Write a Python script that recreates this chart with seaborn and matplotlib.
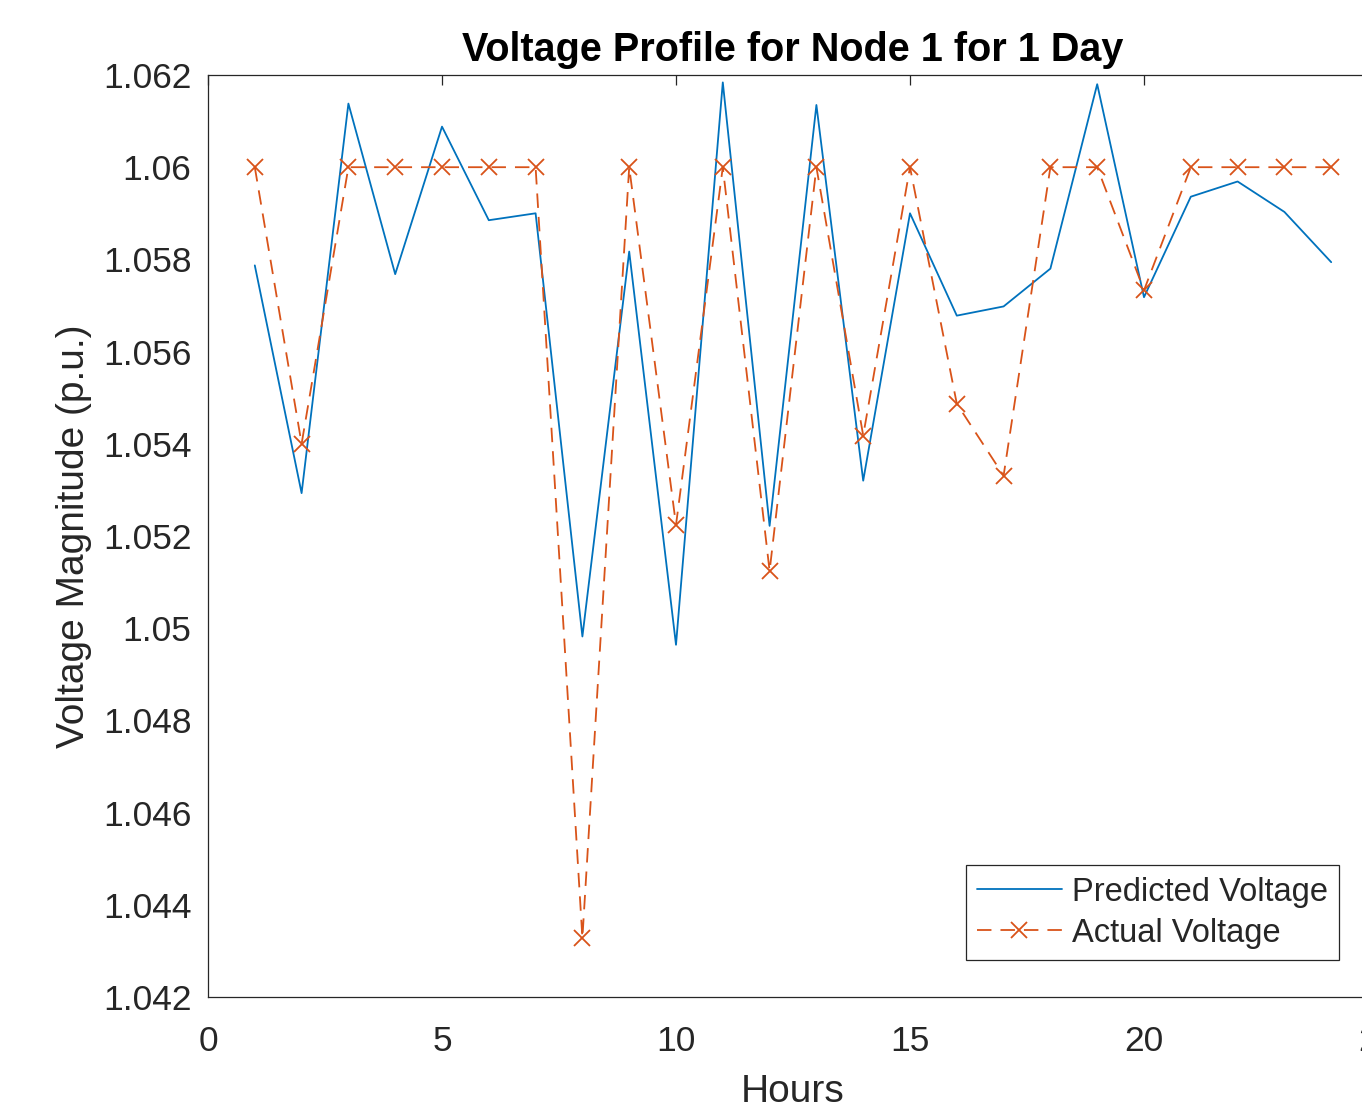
import matplotlib
matplotlib.use('Agg')
import matplotlib.pyplot as plt
from matplotlib.lines import Line2D
from matplotlib.ticker import FuncFormatter
import seaborn as sns
import pandas as pd

# 시간(1~24시)별 전압 데이터
hours = list(range(1, 25))
predicted_voltage = [1.05787, 1.05293, 1.06138, 1.05768, 1.06088, 1.05885, 1.05900, 1.04982,
                     1.05817, 1.04964, 1.06184, 1.05222, 1.06135, 1.05320, 1.05900, 1.05678,
                     1.05698, 1.05780, 1.06180, 1.05718, 1.05936, 1.05969, 1.05903, 1.05794]
actual_voltage = [1.06, 1.054, 1.06, 1.06, 1.06, 1.06, 1.06, 1.04328,
                  1.06, 1.05224, 1.06, 1.05124, 1.06, 1.05418, 1.06, 1.05487,
                  1.05331, 1.06, 1.06, 1.05733, 1.06, 1.06, 1.06, 1.06]
x_ticks = [0, 5, 10, 15, 20, 25]
y_ticks = [1.042, 1.044, 1.046, 1.048, 1.05, 1.052, 1.054, 1.056, 1.058, 1.06, 1.062]

sns.set_style('white')
plt.rcParams['font.family'] = ['Liberation Sans', 'DejaVu Sans']

BLUE = '#0072BD'
ORANGE = '#D95319'
DARK = '#262626'

fig = plt.figure(figsize=(13.62, 11.08), dpi=100)
# 축 오른쪽이 그림 밖으로 잘린 원본 배치
ax = fig.add_axes([208 / 1362, 1 - 997 / 1108, 1170 / 1362, 922 / 1108])

df = pd.DataFrame({'Hours': hours, 'Predicted': predicted_voltage, 'Actual': actual_voltage})

sns.lineplot(data=df, x='Hours', y='Predicted', ax=ax, color=BLUE, linewidth=1.3)
sns.lineplot(data=df, x='Hours', y='Actual', ax=ax, color=ORANGE, linewidth=1.3,
             linestyle=(0, (8, 5)), marker='x', markersize=11,
             markeredgecolor=ORANGE, markeredgewidth=1.3)

ax.set_xlim(0, 25)
ax.set_ylim(1.042, 1.062)
ax.set_xticks(x_ticks)
ax.set_yticks(y_ticks)
ax.yaxis.set_major_formatter(FuncFormatter(lambda v, p: f'{v:.3f}'.rstrip('0')))

ax.tick_params(axis='both', which='major', direction='in', length=7, width=0.9,
               colors=DARK, labelsize=25.5, top=True, right=True)
ax.tick_params(axis='y', pad=12)
ax.tick_params(axis='x', pad=20)
for spine in ax.spines.values():
    spine.set_visible(True)
    spine.set_color(DARK)
    spine.set_linewidth(0.9)

ax.set_title('Voltage Profile for Node 1 for 1 Day', fontsize=28.5, fontweight='bold',
             color='black', pad=10)
ax.set_xlabel('Hours', fontsize=28, color=DARK, labelpad=12)
ax.set_ylabel('Voltage Magnitude (p.u.)', fontsize=28, color=DARK, labelpad=8)

handles = [
    Line2D([], [], color=BLUE, linewidth=1.3),
    Line2D([], [], color=ORANGE, linewidth=1.3, linestyle=(0, (8, 5)), marker='x',
           markersize=11, markeredgewidth=1.3),
]
leg = ax.legend(handles, ['Predicted Voltage', 'Actual Voltage'], loc='lower right',
                bbox_to_anchor=(1339 / 1362, 1 - 960 / 1108), bbox_transform=fig.transFigure,
                borderaxespad=0, fontsize=23.5, frameon=True, fancybox=False, framealpha=1,
                edgecolor=DARK, handlelength=2.6, handletextpad=0.3, labelspacing=0.3,
                borderpad=0.35)
leg.get_frame().set_linewidth(0.9)
for t in leg.get_texts():
    t.set_color(DARK)

fig.savefig('out.png', dpi=100)
